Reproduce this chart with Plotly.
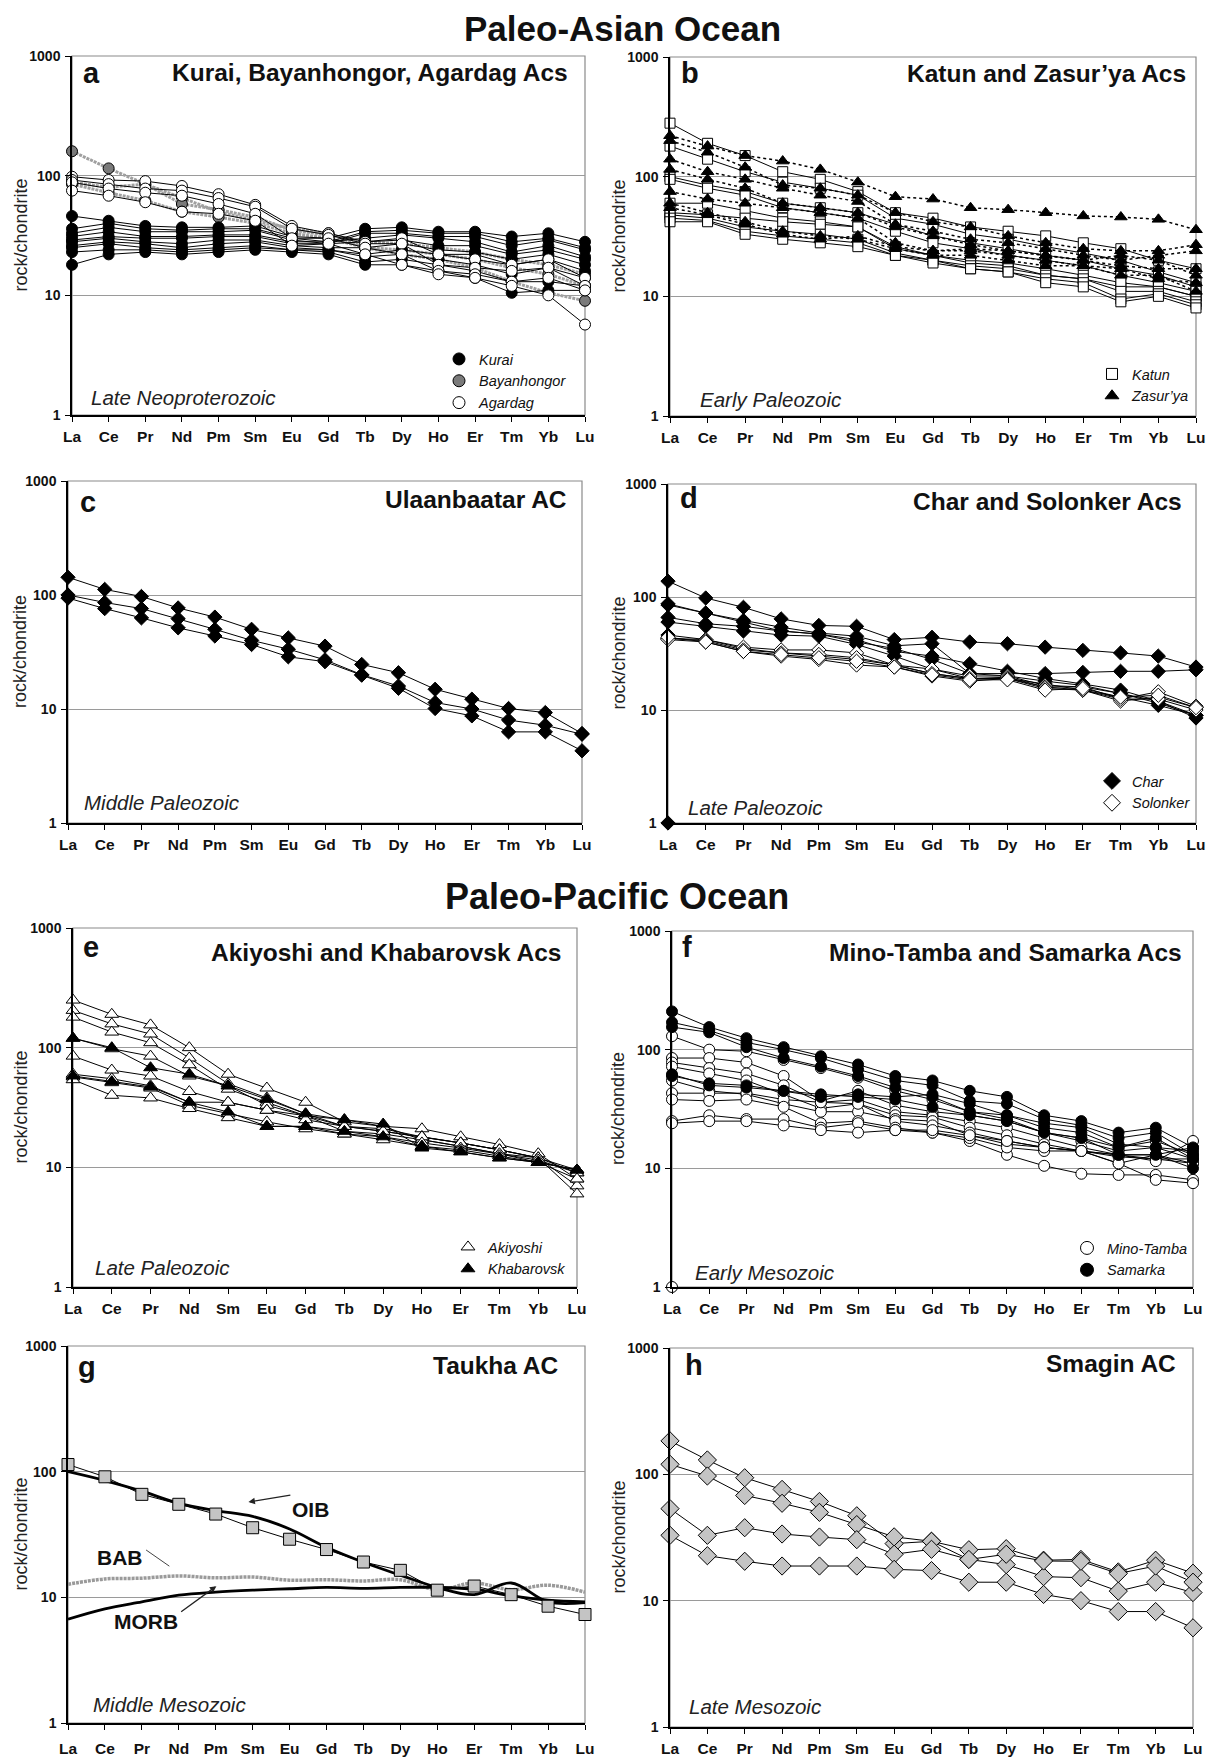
import plotly.graph_objects as go

# ---------------- categories / ticks ----------------
REE = ["La", "Ce", "Pr", "Nd", "Pm", "Sm", "Eu", "Gd", "Tb", "Dy", "Ho", "Er", "Tm", "Yb", "Lu"]
REE_NO_PM = ["La", "Ce", "Pr", "Nd", "Sm", "Eu", "Gd", "Tb", "Dy", "Ho", "Er", "Tm", "Yb", "Lu"]
Y_TICKS = [1, 10, 100, 1000]
Y_TICK_TEXT = ["1", "10", "100", "1000"]

# ---------------- panel a: Kurai, Bayanhongor, Agardag ----------------
KURAI = [
    [46, 42, 38, 37, 37, 38, 31, 30, 36, 37, 34, 34, 31, 33, 28],
    [36, 40, 36, 35, 36, 36, 30, 28, 34, 35, 33, 33, 28, 30, 25],
    [33, 37, 34, 34, 34, 35, 29, 27, 33, 33, 31, 31, 26, 29, 24],
    [31, 34, 31, 31, 32, 32, 28, 28, 30, 32, 30, 28, 23, 26, 21],
    [29, 31, 30, 30, 31, 31, 27, 27, 28, 29, 26, 26, 22, 24, 20],
    [28, 30, 28, 27, 29, 29, 26, 25, 25, 27, 24, 23, 20, 22, 18],
    [26, 28, 27, 25, 27, 28, 25, 24, 22, 24, 22, 22, 18, 20, 16],
    [25, 27, 25, 24, 25, 26, 24, 24, 21, 22, 20, 18, 15, 17, 14],
    [23, 24, 24, 23, 24, 25, 24, 23, 19, 20, 18, 16, 13, 13, 12],
    [18, 22, 23, 22, 23, 24, 23, 22, 18, 18, 16, 14, 10.5, 11, 11],
]
BAYANHONGOR = [
    [160, 115, 85, 65, 50, 42, 36, 33, 25, 22, 20, 17, 13, 10.5, 9],
    [88, 80, 85, 58, 52, 45, 35, 32, 28, 27, 25, 23, 20, 18, 15],
    [85, 72, 62, 50, 45, 40, 33, 30, 25, 24, 22, 20, 17, 15, 12],
]
AGARDAG = [
    [98, 92, 90, 82, 70, 57, 38, 33, 28, 30, 22, 20, 18, 20, 14],
    [92, 85, 78, 75, 65, 55, 36, 32, 27, 27, 18, 17, 16, 17, 12],
    [88, 78, 72, 68, 58, 48, 30, 30, 25, 22, 16, 15, 13, 14, 11],
    [75, 68, 60, 50, 48, 42, 26, 27, 22, 18, 15, 14, 12, 10, 5.7],
]

# ---------------- panel b: Katun, Zasur'ya ----------------
KATUN = [
    [280, 190, 150, 110, 95, 75, 50, 45, 38, 35, 32, 28, 25, 20, 17],
    [180, 140, 110, 90, 80, 70, 45, 40, 33, 30, 26, 23, 20, 16, 13],
    [100, 85, 75, 60, 55, 50, 40, 32, 28, 25, 22, 20, 17, 15, 12],
    [95, 80, 70, 55, 50, 45, 35, 28, 25, 22, 20, 18, 15, 13, 11],
    [60, 60, 52, 45, 42, 38, 26, 22, 19, 18, 15, 14, 12, 12, 10],
    [50, 48, 45, 42, 40, 38, 25, 22, 20, 19, 17, 15, 13, 12, 10],
    [48, 45, 38, 35, 33, 30, 23, 20, 18, 17, 15, 14, 11, 11, 9],
    [45, 43, 35, 32, 30, 28, 22, 20, 17, 16, 14, 13, 9.5, 10.5, 8.5],
    [42, 42, 33, 30, 28, 26, 22, 19, 17, 16, 13, 12, 9, 10, 8],
]
ZASURYA = [
    [220, 180, 150, 135, 115, 90, 68, 65, 55, 53, 50, 47, 46, 44, 36],
    [200, 160, 120, 85, 80, 70, 50, 42, 38, 32, 28, 25, 24, 24, 27],
    [140, 110, 95, 80, 70, 62, 40, 35, 30, 28, 25, 22, 20, 22, 24],
    [115, 95, 80, 60, 55, 50, 38, 32, 27, 24, 22, 20, 18, 17, 17],
    [75, 65, 60, 55, 50, 45, 28, 24, 24, 22, 20, 18, 17, 14, 13],
    [60, 50, 42, 35, 32, 30, 25, 22, 22, 20, 18, 18, 15, 15, 11],
    [55, 48, 40, 33, 30, 32, 26, 24, 25, 24, 22, 20, 22, 20, 15],
]

# ---------------- panel c: Ulaanbaatar ----------------
ULAANBAATAR = [
    [143, 112, 97, 77, 64, 50, 42, 35.6, 24.6, 20.8, 14.9, 12.2, 10.1, 9.3, 6.1],
    [100, 86, 76, 62, 50, 40, 33.5, 27, 20, 15.9, 11.4, 10, 8, 7.2, 6],
    [94, 76, 63, 51.5, 43.7, 36.8, 28.7, 26, 19.8, 15.2, 10.1, 8.7, 6.3, 6.3, 4.3],
]

# ---------------- panel d: Char, Solonker ----------------
CHAR = [
    [138, 98, 81, 64, 56, 55, 42, 44, 40, 38.6, 36, 33.7, 32, 30, 24],
    [87, 72, 62, 54, 48, 45, 37, 38.6, 21, 21, 21, 21.5, 22, 22, 22.7],
    [85, 72, 60, 50, 47, 42, 33, 30, 25.7, 22, 19, 17, 15, 12, 9],
    [66, 58, 55, 50, 47, 40, 35, 28, 21, 20, 18, 16.5, 14, 12, 8.5],
    [60, 55, 50, 46, 45, 38, 30, 23, 19, 19, 16, 16, 14, 11.5, 9],
    [46, 42, 35, 32, 30, 28, 25, 21, 19, 19, 17, 15, 13, 11, 9],
    [1, None, None, None, None, None, None, None, None, None, None, None, None, None, None],
]
SOLONKER = [
    [43, 42, 36, 34, 34, 32, 25, 23, 20, 20, 16.5, 16, 12.5, 14.5, 10.8],
    [43, 41, 34, 32, 31, 29, 25, 21, 19, 19.5, 16, 15, 12, 13, 10.5],
    [42, 40, 33, 30, 28, 25, 24, 20, 18, 19, 15.5, 15, 12.5, 12.5, 10],
    [44, 40, 33, 31, 29, 27, 24, 20.5, 18.5, 18.5, 15, 15.5, 13, 13.5, 10.5],
]

# ---------------- panel e: Akiyoshi, Khabarovsk (no Pm) ----------------
AKIYOSHI = [
    [250, 190, 155, 100, 60, 46, 35, 24, 22, 21, 18, 15.5, 13, 8],
    [205, 158, 130, 82, 50, 38, 28, 22, 20, 18, 16, 14, 12, 7],
    [180, 135, 110, 72, 45, 35, 27, 20, 19, 17, 15, 13, 12, 6],
    [120, 98, 85, 58, 48, 33, 27, 22, 21, 18, 16, 14, 12, 9.5],
    [85, 65, 58, 43, 35, 30, 27, 25, 22, 17, 15, 13, 11, 9.5],
    [60, 55, 48, 35, 35, 30, 25, 22, 20, 18, 16, 14, 12, 9],
    [57, 51, 46, 33, 28, 24, 21, 19, 18, 16, 14.5, 13, 11.5, 9],
    [54, 40, 38, 31, 26, 22, 22, 19, 17, 15, 14, 12.5, 11, 8],
]
KHABAROVSK = [
    [120, 100, 68, 60, 48, 37, 28, 25, 23, 14.5, 13.5, 12, 11, 9.5],
    [58, 52, 47, 35, 29, 22, 22, 20, 18, 15, 13.5, 12, 11, 9.5],
]

# ---------------- panel f: Mino-Tamba, Samarka ----------------
MINO_TAMBA = [
    [130, 100, 97, 82, 70, 58, 45, 38, 30, 26, 20, 18, 15, 17, 13],
    [85, 85, 78, 60, 37, 45, 34, 30, 28, 25, 20, 17, 14, 15, 12],
    [78, 70, 63, 50, 36, 38, 30, 28, 25, 22, 18, 15, 13, 13, 11],
    [72, 63, 55, 42, 32, 35, 28, 27, 22, 19, 16, 14, 12.5, 12, 11],
    [55, 45, 42, 35, 30, 30, 26, 25, 19, 16, 15, 14, 11, 13, 15],
    [43, 43, 43, 38, 36, 35, 25, 23, 20, 17, 15, 14, 13, 12, 12],
    [38, 37, 38, 33, 24, 25, 22, 20, 17, 13, 10.5, 9, 8.8, 8.8, 8],
    [25, 28, 26, 26, 22, 24, 21, 20, 18, 15, 14, 14, 11, 8, 7.5],
    [24, 25, 25, 23, 21, 20, 21, 21, 19, 17, 15, 14, 13, 11.5, 17],
    [1, None, None, None, None, None, None, None, None, None, None, None, None, None, None],
]
SAMARKA = [
    [210, 155, 125, 105, 88, 75, 60, 55, 45, 40, 28, 25, 20, 22, 15],
    [170, 145, 115, 100, 85, 68, 55, 50, 37, 35, 26, 23, 18, 20, 13],
    [155, 140, 105, 85, 72, 60, 48, 40, 30, 28, 22, 20, 15, 18, 12],
    [62, 50, 48, 45, 42, 40, 38, 33, 28, 25, 20, 18, 13, 13, 10],
    [60, 52, 50, 45, 40, 42, 40, 42, 35, 28, 24, 22, 16, 15, 14],
]

# ---------------- panel g: Taukha + reference basalts ----------------
TAUKHA = [114, 91, 66, 55, 46, 35.8, 29, 24, 19.1, 16.4, 11.4, 12.3, 10.5, 8.5, 7.3]
OIB = [100, 85, 70, 56, 49, 44, 35, 25, 19, 15, 12, 10.5, 13, 9.2, 9.1]
MORB = [6.7, 8.1, 9.2, 10.4, 11, 11.4, 11.7, 12, 11.8, 12, 12, 11.6, 10.3, 9.5, 9.2]
BAB = [12.7, 14, 14.2, 14.8, 14.3, 14.5, 13.7, 13.8, 13.5, 13.8, 11.5, 13, 11.5, 12.5, 11]

# ---------------- panel h: Smagin ----------------
SMAGIN = [
    [184, 130, 94, 76, 61, 47, 28.3, 29.5, 21.2, 19.3, 15.5, 15.2, 11.9, 14, 11.6],
    [120, 97, 68, 59, 50, 40, 32, 29.5, 25.3, 25.8, 20.9, 21.2, 16.9, 20.9, 16.5],
    [53.5, 32.9, 37.8, 33.7, 31.9, 30.4, 23.3, 25.5, 21.2, 23.3, 20.6, 20.5, 16.4, 18.8, 14],
    [32.9, 22.7, 20.5, 18.8, 18.8, 18.8, 17.7, 17.3, 14, 14, 11.2, 10, 8.2, 8.2, 6.1],
]

# ---------------- texts ----------------
PANEL_LETTERS = ["a", "b", "c", "d", "e", "f", "g", "h"]
PANEL_TITLES = ["Kurai, Bayanhongor, Agardag Acs", "Katun and Zasur\u2019ya Acs", "Ulaanbaatar AC",
                "Char and Solonker Acs", "Akiyoshi and Khabarovsk Acs", "Mino-Tamba and Samarka Acs",
                "Taukha AC", "Smagin AC"]
PERIODS = ["Late Neoproterozoic", "Early Paleozoic", "Middle Paleozoic", "Late Paleozoic",
           "Late Paleozoic", "Early Mesozoic", "Middle Mesozoic", "Late Mesozoic"]

# =====================================================================
W, H = 1217, 1760          # page (window) size
OFF = 8                    # default body margin of the page
FW, FH = W - 2 * OFF, H - OFF   # figure size
FONT = "Liberation Sans, Arial, Helvetica, sans-serif"
TXT = "#111111"


def fx(px):
    return (px - OFF) / FW


def fy(py):
    return 1 - (py - OFF) / FH


# plot-area boxes in page pixels: x0, x1, y_top, y_bottom
BOX = {1: (72, 585, 56, 415), 2: (670, 1196, 57, 416),
       3: (68, 582, 481, 823), 4: (668, 1196, 484, 823),
       5: (73, 577, 928, 1287), 6: (672, 1193, 931, 1287),
       7: (68, 585, 1346, 1723), 8: (670, 1193, 1348, 1727)}
XLABEL_STANDOFF = {1: 2, 2: 2, 3: 2, 4: 2, 5: 2, 6: 2, 7: 6, 8: 2}
# letter (x,y), title (x,y), period (x,y) in axis-domain fractions
LETTER_POS = {1: (0.018, 0.953), 2: (0.018, 0.955), 3: (0.02, 0.94), 4: (0.018, 0.96),
              5: (0.016, 0.947), 6: (0.016, 0.955), 7: (0.016, 0.944), 8: (0.025, 0.955)}
TITLE_POS = {1: (0.971, 0.953), 2: (0.984, 0.955), 3: (0.975, 0.945), 4: (0.978, 0.947),
             5: (0.973, 0.933), 6: (0.982, 0.94), 7: (0.953, 0.947), 8: (0.971, 0.96)}
PERIOD_POS = {1: (0.034, 0.05), 2: (0.054, 0.047), 3: (0.027, 0.06), 4: (0.035, 0.047),
              5: (0.039, 0.053), 6: (0.041, 0.042), 7: (0.045, 0.048), 8: (0.032, 0.053)}

fig = go.Figure()


def axn(i):
    return ("x" if i == 1 else f"x{i}"), ("y" if i == 1 else f"y{i}")


def add_rows(i, cats, rows, symbol, fill, size, lcolor="black", lwidth=1.0, dash="solid",
             mline=1.0, shape="linear", mode="lines+markers"):
    xa, ya = axn(i)
    for r in rows:
        fig.add_trace(go.Scatter(
            x=cats, y=r, xaxis=xa, yaxis=ya, mode=mode, showlegend=False, cliponaxis=False,
            line=dict(color=lcolor, width=lwidth, dash=dash, shape=shape),
            marker=dict(symbol=symbol, size=size, color=fill, line=dict(color="black", width=mline)),
            hoverinfo="skip"))


def add_key(i, legend_id, name, symbol, fill, size):
    xa, ya = axn(i)
    fig.add_trace(go.Scatter(
        x=[None], y=[None], xaxis=xa, yaxis=ya, mode="markers", name=name, legend=legend_id,
        showlegend=True, marker=dict(symbol=symbol, size=size, color=fill, line=dict(color="black", width=1))))


# panel a
add_rows(1, REE, BAYANHONGOR, "circle", "#7a7a7a", 11, lcolor="#a0a0a0", lwidth=3, dash="3px,1px")
add_rows(1, REE, KURAI, "circle", "black", 11)
add_rows(1, REE, AGARDAG, "circle", "white", 11)
add_key(1, "legend", "Kurai", "circle", "black", 12)
add_key(1, "legend", "Bayanhongor", "circle", "#7a7a7a", 12)
add_key(1, "legend", "Agardag", "circle", "white", 12)

# panel b
add_rows(2, REE, KATUN, "square", "white", 10)
add_rows(2, REE, ZASURYA, "triangle-up", "black", 11, lwidth=1.5, dash="dot")
add_key(2, "legend2", "Katun", "square", "white", 11)
add_key(2, "legend2", "Zasur\u2019ya", "triangle-up", "black", 12)

# panel c
add_rows(3, REE, ULAANBAATAR, "diamond", "black", 11)

# panel d
add_rows(4, REE, CHAR, "diamond", "black", 11)
add_rows(4, REE, SOLONKER, "diamond", "white", 11)
add_key(4, "legend3", "Char", "diamond", "black", 13)
add_key(4, "legend3", "Solonker", "diamond", "white", 13)

# panel e
add_rows(5, REE_NO_PM, AKIYOSHI, "triangle-up", "white", 12)
add_rows(5, REE_NO_PM, KHABAROVSK, "triangle-up", "black", 12)
add_key(5, "legend4", "Akiyoshi", "triangle-up", "white", 12)
add_key(5, "legend4", "Khabarovsk", "triangle-up", "black", 12)

# panel f
add_rows(6, REE, MINO_TAMBA, "circle", "white", 11)
add_rows(6, REE, SAMARKA, "circle", "black", 11)
add_key(6, "legend5", "Mino-Tamba", "circle", "white", 13)
add_key(6, "legend5", "Samarka", "circle", "black", 13)

# panel g
add_rows(7, REE, [BAB], "circle", "white", 1, lcolor="#9a9a9a", lwidth=3.5, dash="3px,1px", shape="spline", mode="lines")
add_rows(7, REE, [MORB], "circle", "white", 1, lcolor="black", lwidth=2.8, shape="spline", mode="lines")
add_rows(7, REE, [OIB], "circle", "white", 1, lcolor="black", lwidth=2.8, shape="spline", mode="lines")
add_rows(7, REE, [TAUKHA], "square", "#c4c4c4", 12, lwidth=1.0)

# panel h
add_rows(8, REE, SMAGIN, "diamond", "#c4c4c4", 14)

layout = dict(
    width=FW, height=FH, margin=dict(l=0, r=0, t=0, b=0, pad=0, autoexpand=False),
    paper_bgcolor="white", plot_bgcolor="white",
    font=dict(family=FONT, color=TXT),
    showlegend=True,
)

annotations = []
shapes = []
for i in range(1, 9):
    x0, x1, yt, yb = BOX[i]
    cats = REE_NO_PM if i == 5 else REE
    xk = "xaxis" if i == 1 else f"xaxis{i}"
    yk = "yaxis" if i == 1 else f"yaxis{i}"
    xa, ya = axn(i)
    layout[xk] = dict(
        domain=[fx(x0), fx(x1)], anchor=ya, type="category", automargin=False,
        categoryorder="array", categoryarray=cats, range=[0, len(cats) - 1],
        showline=True, linecolor="black", linewidth=1.5, mirror=False,
        ticks="outside", ticklen=5, tickcolor="black", tickwidth=1.2,
        tickfont=dict(size=15.5, weight="bold", color=TXT), ticklabelstandoff=XLABEL_STANDOFF[i],
        showgrid=False, zeroline=False, fixedrange=True)
    layout[yk] = dict(
        domain=[fy(yb), fy(yt)], anchor=xa, type="log", range=[0, 3], automargin=False,
        tickvals=Y_TICKS, ticktext=Y_TICK_TEXT,
        showline=True, linecolor="black", linewidth=1.5, mirror=False,
        ticks="outside", ticklen=5, tickcolor="black", tickwidth=1.2,
        tickfont=dict(size=14, weight="bold", color=TXT), ticklabelstandoff=2,
        showgrid=True, gridcolor="#9a9a9a", gridwidth=1, zeroline=False, fixedrange=True)
    shapes.append(dict(type="rect", xref=f"{xa} domain", yref=f"{ya} domain", x0=0, x1=1, y0=0, y1=1,
                       line=dict(color="#8a8a8a", width=1.2), layer="below"))
    lx, ly = LETTER_POS[i]
    annotations.append(dict(text=PANEL_LETTERS[i - 1], xref=f"{xa} domain", yref=f"{ya} domain",
                            x=lx, y=ly, xanchor="left", yanchor="middle", showarrow=False,
                            font=dict(size=29, weight="bold", color=TXT)))
    tx, ty = TITLE_POS[i]
    annotations.append(dict(text=PANEL_TITLES[i - 1], xref=f"{xa} domain", yref=f"{ya} domain",
                            x=tx, y=ty, xanchor="right", yanchor="middle", showarrow=False,
                            font=dict(size=24.5, weight="bold", color=TXT)))
    px_, py_ = PERIOD_POS[i]
    annotations.append(dict(text=PERIODS[i - 1], xref=f"{xa} domain", yref=f"{ya} domain",
                            x=px_, y=py_, xanchor="left", yanchor="middle", showarrow=False,
                            font=dict(size=20.5, style="italic", color="#222222")))
    # y-axis title
    ytx = 20 if i % 2 == 1 else 618
    annotations.append(dict(text="rock/chondrite", xref="paper", yref="paper",
                            x=fx(ytx), y=fy((yt + yb) / 2), xanchor="center", yanchor="middle",
                            textangle=-90, showarrow=False, font=dict(size=18, color="#222222")))

# ocean headings
annotations.append(dict(text="Paleo-Asian Ocean", xref="paper", yref="paper", x=fx(622), y=1.0,
                        xanchor="center", yanchor="top", showarrow=False, borderpad=0,
                        font=dict(size=35, weight="bold", color=TXT)))
annotations.append(dict(text="Paleo-Pacific Ocean", xref="paper", yref="paper", x=fx(617), y=fy(896),
                        xanchor="center", yanchor="middle", showarrow=False,
                        font=dict(size=36, weight="bold", color=TXT)))

# panel g labels and pointers
gx, gy = "x7 domain", "y7 domain"
for txt, x, y in [("OIB", 0.47, 0.565), ("BAB", 0.10, 0.44), ("MORB", 0.15, 0.268)]:
    annotations.append(dict(text=txt, xref=gx, yref=gy, x=x, y=y, xanchor="center", yanchor="middle",
                            showarrow=False, font=dict(size=21, weight="bold", color=TXT)))
for (hx, hy, tx_, ty_) in [(0.349, 0.586, 0.433, 0.605), (0.287, 0.363, 0.216, 0.292)]:
    annotations.append(dict(text="", xref=gx, yref=gy, x=hx, y=hy, axref=gx, ayref=gy, ax=tx_, ay=ty_,
                            showarrow=True, arrowhead=2, arrowsize=1, arrowwidth=1.3, arrowcolor="#222"))
shapes.append(dict(type="line", xref=gx, yref=gy, x0=0.151, y0=0.459, x1=0.196, y1=0.416,
                   line=dict(color="#444", width=1)))

layout["annotations"] = annotations
layout["shapes"] = shapes


def legend_cfg(mx, top):
    return dict(x=fx(mx - 20), y=fy(top - 15), xanchor="left", yanchor="top",
                xref="paper", yref="paper", bgcolor="rgba(0,0,0,0)", borderwidth=0,
                font=dict(size=14.5, style="italic", color=TXT, family=FONT),
                itemwidth=30, tracegroupgap=0, itemclick=False, itemdoubleclick=False)


layout["legend"] = legend_cfg(459, 358)
layout["legend2"] = legend_cfg(1112, 373)
layout["legend3"] = legend_cfg(1112, 780)
layout["legend4"] = legend_cfg(468, 1246)
layout["legend5"] = legend_cfg(1087, 1247)

fig.update_layout(**layout)
fig.write_html("out.html")
